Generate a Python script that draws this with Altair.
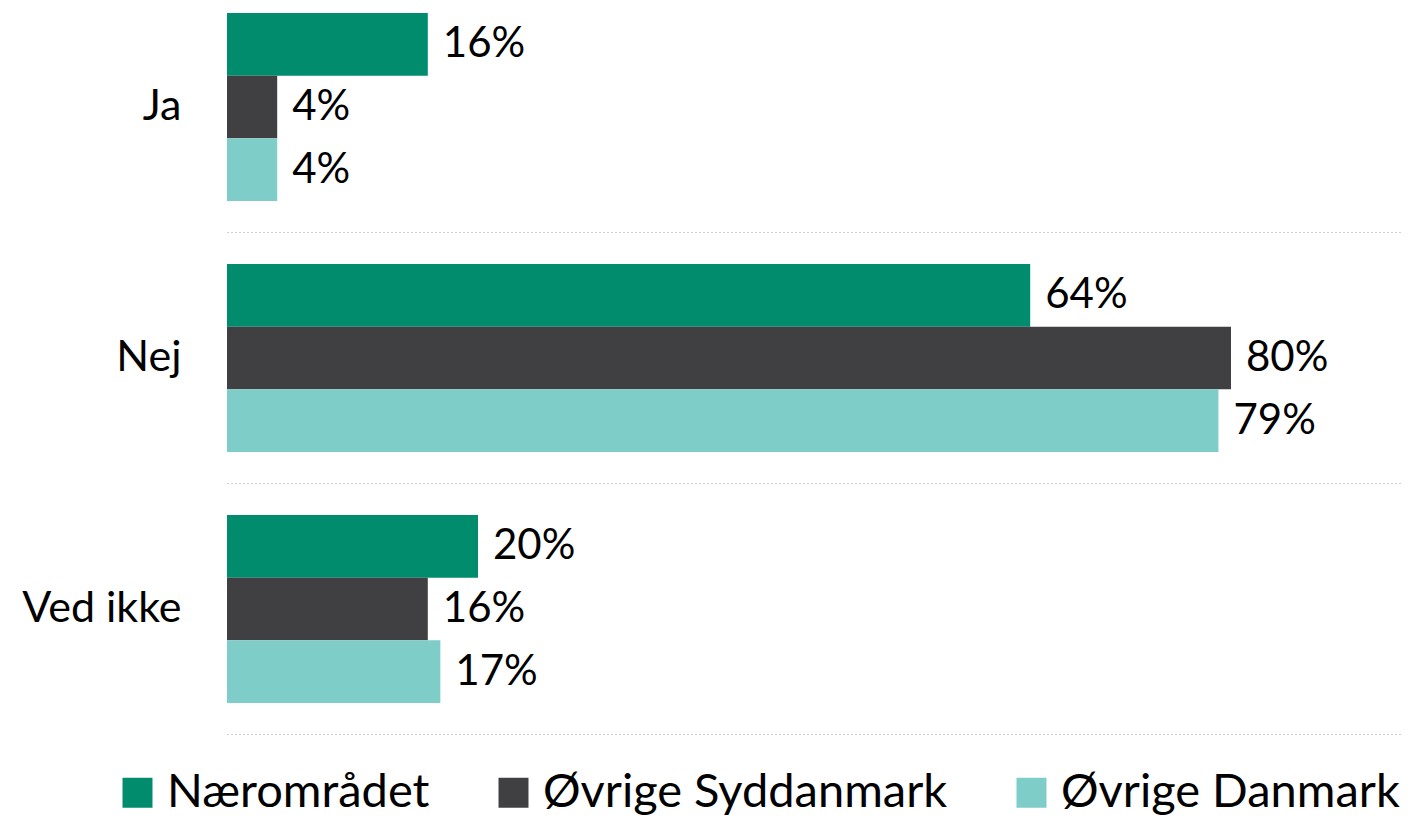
import altair as alt
import pandas as pd

categories = ["Ja", "Nej", "Ved ikke"]
series = ["Nærområdet", "Øvrige Syddanmark", "Øvrige Danmark"]
naeromraadet = [16, 64, 20]
oevrige_syddanmark = [4, 80, 16]
oevrige_danmark = [4, 79, 17]
colors = ["#028C6E", "#404042", "#7FCDC9"]

rows = []
for s, vals in zip(series, [naeromraadet, oevrige_syddanmark, oevrige_danmark]):
    for c, v in zip(categories, vals):
        rows.append({"cat": c, "series": s, "value": v})
df = pd.DataFrame(rows)
sep_df = pd.DataFrame({"cat": categories})

FONT = "Lato"

y_enc = alt.Y(
    "cat:N",
    sort=categories,
    scale=alt.Scale(domain=categories, paddingInner=0.251, paddingOuter=0.0717, align=0.139),
    axis=alt.Axis(title=None, labelFontSize=43, labelFont=FONT, labelColor="black",
                  ticks=False, domain=False, grid=False, labelPadding=46),
)
yoff = alt.YOffset("series:N", sort=series,
                   scale=alt.Scale(domain=series, paddingInner=0, paddingOuter=0))
x_enc = alt.X("value:Q", scale=alt.Scale(domain=[0, 80], nice=False, zero=True), axis=None)

base = alt.Chart(df)

bars = base.mark_bar().encode(
    x=x_enc,
    y=y_enc,
    yOffset=yoff,
    color=alt.Color(
        "series:N",
        sort=series,
        scale=alt.Scale(domain=series, range=colors),
        legend=alt.Legend(
            orient="none", legendX=-113, legendY=761, direction="horizontal",
            title=None, symbolType="square", symbolSize=900, symbolStrokeWidth=0,
            labelFontSize=47, labelFont=FONT, labelColor="black",
            columnPadding=60, labelOffset=6, labelLimit=0, padding=0,
        ),
    ),
)

labels = base.mark_text(align="left", baseline="middle", dx=15, fontSize=42, font=FONT,
                        color="black").transform_calculate(
    label="datum.value + '%'"
).encode(
    x=x_enc,
    y=alt.Y("cat:N", sort=categories),
    yOffset=yoff,
    text="label:N",
)

seps = alt.Chart(sep_df).mark_rule(color="#D0D0D0", strokeDash=[2, 2], strokeWidth=1,
                                   yOffset=31.5).encode(
    y=alt.Y("cat:N", sort=categories, bandPosition=1),
    x=alt.value(0),
    x2=alt.value(1190),
)

chart = alt.layer(seps, bars, labels).properties(
    width=1004,
    height=726,
    autosize=alt.AutoSizeParams(type="none"),
    padding={"left": 219, "top": 0, "right": 172, "bottom": 86},
).configure(font=FONT).configure_view(stroke=None)

chart.save("out.html", embed_options={"renderer": "svg", "actions": False})
